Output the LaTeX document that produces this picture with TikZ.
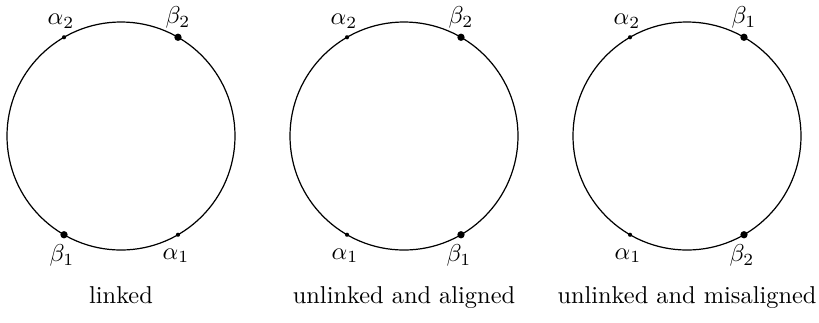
\documentclass[tikz,border=0pt]{standalone}
\begin{document}
\begin{tikzpicture}[x=0.41pt,y=-0.41pt,
  ring/.style={draw,circle,line width=0.5pt,minimum size=228*0.41pt,inner sep=0pt,outer sep=0pt},
  sdot/.style={circle,fill,inner sep=0pt,minimum size=1.7pt},
  bdot/.style={circle,fill,inner sep=0pt,minimum size=3pt},
  lab/.style={inner sep=0pt},
  captxt/.style={inner sep=0pt,anchor=base}]
\useasboundingbox (0,0) rectangle (819,322);
\foreach \n/\cx/\pa/\pb/\pc/\pd/\sa/\sb/\sc/\sd/\txt in {
  1/121/{\alpha_2}/{\beta_2}/{\beta_1}/{\alpha_1}/sdot/bdot/bdot/sdot/linked,
  2/404/{\alpha_2}/{\beta_2}/{\alpha_1}/{\beta_1}/sdot/bdot/sdot/bdot/unlinked and aligned,
  3/687/{\alpha_2}/{\beta_1}/{\alpha_1}/{\beta_2}/sdot/bdot/sdot/bdot/unlinked and misaligned}{
  \node[ring] (c\n) at (\cx,136) {};
  \node[\sa] (ul\n) at (c\n.120) {};
  \node[\sb] (ur\n) at (c\n.60) {};
  \node[\sc] (ll\n) at (c\n.240) {};
  \node[\sd] (lr\n) at (c\n.300) {};
  \node[lab] (tul\n) at ([xshift=-3*0.41pt,yshift=16*0.41pt]ul\n) {$\pa$};
  \node[lab] (tur\n) at ([yshift=20*0.41pt]ur\n) {$\pb$};
  \node[lab] (tll\n) at ([xshift=-2*0.41pt,yshift=-21*0.41pt]ll\n) {$\pc$};
  \node[lab] (tlr\n) at ([xshift=-2*0.41pt,yshift=-21*0.41pt]lr\n) {$\pd$};
  \node[captxt] (cap\n) at (\cx,303) {\txt};
}
\end{tikzpicture}
\end{document}
